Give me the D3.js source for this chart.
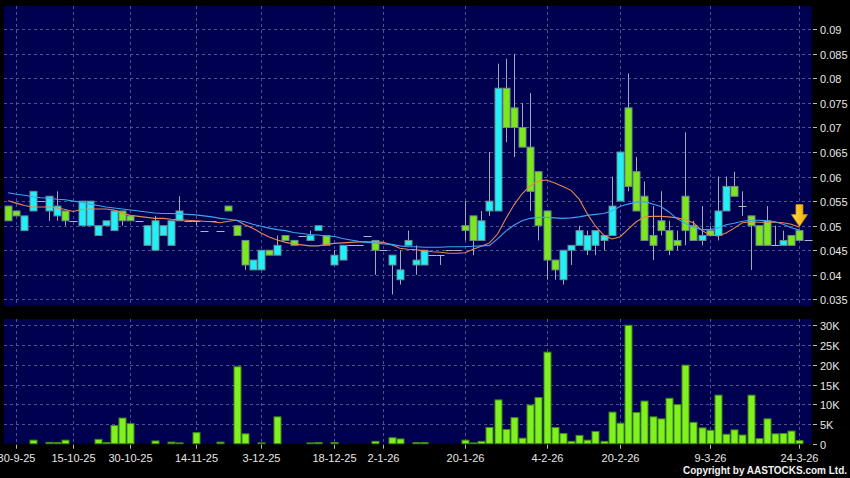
<!DOCTYPE html>
<html><head><meta charset="utf-8">
<script src="https://cdn.jsdelivr.net/npm/d3@7"></script>
<style>html,body{margin:0;padding:0;background:#000;}svg{display:block;}</style>
</head><body><svg id="c" width="850" height="478"></svg>
<script>
// ---- data (one entry per trading session, left to right) ----
const openP  = [0.054,0.053,0.049,0.053,0.055,0.053,0.052,0.053,0.051,0.050,0.050,0.048,0.050,0.049,0.053,0.052,0.051,0.046,0.045,0.048,
                0.046,0.051,0.051,0.051,0.049,0.051,0.049,0.054,0.050,0.047,0.041,0.041,0.045,0.044,0.048,0.047,0.048,0.047,0.049,0.048,
                0.042,0.043,0.046,0.046,0.048,0.047,0.045,0.042,0.039,0.046,0.042,0.042,0.044,0.044,0.045,0.045,0.050,0.052,0.047,0.053,
                0.053,0.078,0.074,0.070,0.066,0.061,0.053,0.043,0.039,0.045,0.046,0.045,0.046,0.047,0.048,0.055,0.074,0.061,0.056,0.048,
                0.051,0.049,0.047,0.056,0.050,0.047,0.049,0.048,0.053,0.058,0.054,0.052,0.050,0.051,0.046,0.046,0.048,0.049,0.047];
const highP  = [0.054,0.053,0.052,0.057,0.055,0.056,0.057,0.053,0.051,0.055,0.055,0.050,0.051,0.053,0.053,0.052,0.051,0.050,0.052,0.050,
                0.051,0.056,0.051,0.051,0.049,0.051,0.049,0.054,0.050,0.047,0.043,0.045,0.045,0.048,0.048,0.047,0.048,0.049,0.050,0.048,
                0.045,0.046,0.046,0.046,0.048,0.047,0.045,0.044,0.045,0.049,0.046,0.045,0.044,0.044,0.045,0.045,0.055,0.052,0.053,0.065,
                0.083,0.084,0.085,0.075,0.077,0.061,0.053,0.043,0.045,0.046,0.050,0.049,0.049,0.048,0.060,0.065,0.081,0.064,0.059,0.054,
                0.057,0.051,0.049,0.069,0.051,0.054,0.050,0.060,0.060,0.061,0.057,0.052,0.050,0.054,0.050,0.049,0.048,0.049,0.047];
const lowP   = [0.051,0.052,0.049,0.053,0.055,0.051,0.051,0.050,0.051,0.050,0.050,0.048,0.050,0.049,0.050,0.051,0.051,0.046,0.045,0.048,
                0.046,0.051,0.051,0.050,0.049,0.051,0.049,0.053,0.048,0.041,0.041,0.041,0.044,0.044,0.047,0.046,0.048,0.047,0.049,0.046,
                0.042,0.043,0.046,0.046,0.048,0.040,0.045,0.036,0.038,0.046,0.040,0.042,0.044,0.042,0.045,0.045,0.047,0.044,0.047,0.052,
                0.053,0.067,0.064,0.066,0.053,0.047,0.039,0.039,0.038,0.042,0.046,0.044,0.044,0.045,0.048,0.055,0.057,0.053,0.047,0.043,
                0.048,0.044,0.045,0.046,0.047,0.046,0.048,0.047,0.053,0.056,0.052,0.041,0.046,0.046,0.046,0.046,0.046,0.047,0.047];
const closeP = [0.051,0.052,0.052,0.057,0.055,0.056,0.054,0.051,0.051,0.055,0.055,0.050,0.051,0.053,0.051,0.051,0.051,0.050,0.051,0.050,
                0.051,0.053,0.051,0.051,0.049,0.051,0.049,0.053,0.048,0.042,0.043,0.045,0.044,0.046,0.047,0.046,0.048,0.048,0.050,0.046,
                0.044,0.046,0.046,0.046,0.048,0.045,0.045,0.044,0.041,0.047,0.043,0.045,0.044,0.044,0.045,0.045,0.049,0.047,0.051,0.055,
                0.078,0.070,0.070,0.066,0.057,0.050,0.043,0.041,0.045,0.046,0.049,0.048,0.049,0.048,0.054,0.065,0.058,0.053,0.047,0.046,
                0.049,0.045,0.046,0.049,0.047,0.048,0.048,0.053,0.058,0.056,0.054,0.050,0.046,0.046,0.046,0.047,0.046,0.047,0.047];
// volume in shares
const volume = [0,0,0,900,0,350,300,900,0,0,0,1100,300,4600,6500,5100,0,0,700,0,
                400,200,0,2800,0,0,400,0,19500,2500,0,200,0,6800,0,0,0,200,300,0,
                300,0,0,0,0,600,0,1500,1200,0,300,300,0,0,0,0,900,200,600,4100,
                11100,3600,6600,1400,9800,11700,23200,4100,2600,600,2100,900,3100,600,8000,5200,30000,7900,10800,6800,
                6300,11500,9900,19900,5400,4000,3400,12300,2400,3500,2200,12300,1300,6300,2500,2600,3200,800,0];
// moving averages (orange = short, blue = long)
const maShort = [0.0551,0.0546,0.0541,0.0538,0.0538,0.0538,0.0536,0.0533,0.0529,0.0533,0.0534,0.0534,0.0534,0.0532,0.0526,0.0521,0.0519,0.0517,0.0515,0.0515,
                 0.0513,0.0512,0.0511,0.0510,0.0509,0.0508,0.0506,0.0509,0.0511,0.0502,0.0495,0.0485,0.0477,0.0471,0.0466,0.0463,0.0461,0.0459,0.0459,0.0462,
                 0.0464,0.0465,0.0466,0.0467,0.0467,0.0467,0.0466,0.0461,0.0454,0.0452,0.0451,0.0449,0.0447,0.0446,0.0444,0.0444,0.0445,0.0452,0.0458,0.0465,
                 0.0483,0.0514,0.0542,0.0565,0.0581,0.0591,0.0593,0.0587,0.0580,0.0572,0.0554,0.0524,0.0499,0.0481,0.0473,0.0477,0.0493,0.0508,0.0518,0.0519,
                 0.0519,0.0518,0.0516,0.0512,0.0506,0.0491,0.0481,0.0479,0.0485,0.0495,0.0506,0.0508,0.0507,0.0507,0.0507,0.0506,0.0503,0.0497];
const maLong  = [0.0567,0.0564,0.0562,0.0559,0.0557,0.0556,0.0554,0.0553,0.0550,0.0548,0.0544,0.0541,0.0538,0.0536,0.0534,0.0532,0.0530,0.0528,0.0526,0.0525,
                 0.0525,0.0524,0.0523,0.0522,0.0520,0.0518,0.0515,0.0513,0.0511,0.0508,0.0503,0.0499,0.0495,0.0492,0.0490,0.0486,0.0484,0.0482,0.0481,0.0479,
                 0.0478,0.0474,0.0471,0.0468,0.0466,0.0465,0.0463,0.0462,0.0459,0.0457,0.0457,0.0456,0.0456,0.0456,0.0457,0.0457,0.0457,0.0458,0.0459,0.0460,
                 0.0473,0.0489,0.0501,0.0510,0.0515,0.0517,0.0517,0.0516,0.0515,0.0516,0.0518,0.0521,0.0523,0.0525,0.0530,0.0539,0.0544,0.0548,0.0549,0.0544,
                 0.0539,0.0528,0.0514,0.0505,0.0497,0.0492,0.0492,0.0495,0.0502,0.0505,0.0509,0.0511,0.0511,0.0510,0.0508,0.0503,0.0496,0.0491];
const dateLabels = ["30-9-25","15-10-25","30-10-25","14-11-25","3-12-25","18-12-25","2-1-26","20-1-26","4-2-26","20-2-26","9-3-26","24-3-26"];
const dateIndex  = [1,8,15,23,31,40,46,56,66,75,86,97];
const priceTicks = [0.035,0.04,0.045,0.05,0.055,0.06,0.065,0.07,0.075,0.08,0.085,0.09];
const volTicks   = [0,5000,10000,15000,20000,25000,30000];
const markerIndex = 97;

// ---- drawing ----
const svg = d3.select("#c");
const N = openP.length;
const L = 4, R = 811.7;
const pTop = 6, pBot = 306, vTop = 319, vBot = 443.7;
const NAVY = "#000050";
const FONT = "'Liberation Sans', Arial, sans-serif";

svg.append("rect").attr("width",850).attr("height",478).attr("fill","#000");
svg.append("rect").attr("x",L).attr("y",pTop).attr("width",R-L).attr("height",pBot-pTop).attr("fill",NAVY);
svg.append("rect").attr("x",L).attr("y",vTop).attr("width",R-L).attr("height",vBot-vTop).attr("fill",NAVY);

const x = d3.scaleBand().domain(d3.range(N)).range([L, R]).padding(0);
const cx = i => x(i) + x.bandwidth()/2;
const y = d3.scaleLinear().domain([0.035, 0.09]).range([299.35, 29.3]);
const yv = d3.scaleLinear().domain([0, 30000]).range([vBot, 325.3]);
const bw = 7;

const gridCol = "#52528a";
const grid = svg.append("g").attr("stroke", gridCol).attr("stroke-width", 1).attr("stroke-dasharray", "3,3");
priceTicks.forEach(t => grid.append("line").attr("x1",L).attr("x2",R).attr("y1",Math.round(y(t))+0.5).attr("y2",Math.round(y(t))+0.5));
volTicks.filter(t=>t>0).forEach(t => grid.append("line").attr("x1",L).attr("x2",R).attr("y1",Math.round(yv(t))+0.5).attr("y2",Math.round(yv(t))+0.5));
dateIndex.forEach(i => {
  const xx = Math.round(cx(i)) + 0.5;
  grid.append("line").attr("x1",xx).attr("x2",xx).attr("y1",pTop).attr("y2",pBot);
  grid.append("line").attr("x1",xx).attr("x2",xx).attr("y1",vTop).attr("y2",vBot);
});

// candles
const cg = svg.append("g");
d3.range(N).forEach(i => {
  const o = openP[i], c = closeP[i], h = highP[i], l = lowP[i];
  const xc = Math.round(cx(i)) + 0.5;
  if (o === c && h === l) {
    cg.append("line").attr("x1", xc - 4).attr("x2", xc + 4).attr("y1", Math.round(y(o))+0.5).attr("y2", Math.round(y(o))+0.5)
      .attr("stroke", "#b4b4c0").attr("stroke-width", 1);
    return;
  }
  cg.append("line").attr("x1", xc).attr("x2", xc).attr("y1", y(h)).attr("y2", y(l)).attr("stroke", "#a8a8b4").attr("stroke-width", 1);
  if (o === c) {
    cg.append("line").attr("x1", xc - 4).attr("x2", xc + 4).attr("y1", Math.round(y(o))+0.5).attr("y2", Math.round(y(o))+0.5)
      .attr("stroke", "#b4b4c0").attr("stroke-width", 1);
    return;
  }
  const up = c > o;
  cg.append("rect").attr("x", xc - bw/2).attr("width", bw)
    .attr("y", y(Math.max(o, c))).attr("height", Math.abs(y(o) - y(c)))
    .attr("fill", up ? "#22f0f8" : "#7ce81c").attr("stroke", "#6a8c8c").attr("stroke-width", 1);
});

// volume bars
const vg = svg.append("g");
d3.range(N).forEach(i => {
  if (!volume[i]) return;
  const xc = Math.round(cx(i)) + 0.5;
  vg.append("rect").attr("x", xc - bw/2).attr("width", bw).attr("y", yv(volume[i])).attr("height", vBot - yv(volume[i]))
    .attr("fill", "#80f020").attr("stroke", "#3f8a10").attr("stroke-width", 1);
});

// moving averages
const lineGen = d3.line().x((d, i) => cx(i)).y(d => y(d)).curve(d3.curveLinear);
svg.append("path").datum(maShort).attr("d", lineGen).attr("fill", "none").attr("stroke", "#e8874e").attr("stroke-width", 1.1);
svg.append("path").datum(maLong).attr("d", lineGen).attr("fill", "none").attr("stroke", "#3fa4f0").attr("stroke-width", 1.1);

// marker arrow
const ax = cx(markerIndex), ay = y(highP[markerIndex]) - 4;
const defs = svg.append("defs");
const lg = defs.append("linearGradient").attr("id","ag").attr("x1","0").attr("x2","1").attr("y1","0").attr("y2","0");
lg.append("stop").attr("offset","0").attr("stop-color","#ffe24a");
lg.append("stop").attr("offset","1").attr("stop-color","#f0a400");
svg.append("path")
  .attr("d", `M${ax-3.5},${ay-22} L${ax+3.5},${ay-22} L${ax+3.5},${ay-12} L${ax+8},${ay-12} L${ax},${ay} L${ax-8},${ay-12} L${ax-3.5},${ay-12} Z`)
  .attr("fill", "url(#ag)").attr("stroke", "#c88a00").attr("stroke-width", 0.8);

// axes text
const txt = svg.append("g").attr("font-family", FONT).attr("font-size", 11).attr("fill", "#e6e6e6");
const tickCol = "#bbbbbb";
priceTicks.forEach(t => {
  const yy = Math.round(y(t)) + 0.5;
  svg.append("line").attr("x1", 813).attr("x2", 817).attr("y1", yy).attr("y2", yy).attr("stroke", tickCol);
  txt.append("text").attr("x", 820).attr("y", yy + 4).text(String(t));
});
volTicks.forEach(t => {
  const yy = Math.round(yv(t)) + 0.5;
  svg.append("line").attr("x1", 813).attr("x2", 817).attr("y1", yy).attr("y2", yy).attr("stroke", tickCol);
  txt.append("text").attr("x", 820).attr("y", yy + 4).text(t === 0 ? "0" : (t/1000) + "K");
});
dateIndex.forEach((i, k) => {
  const xx = Math.round(cx(i)) + 0.5;
  svg.append("line").attr("x1", xx).attr("x2", xx).attr("y1", vBot + 1).attr("y2", vBot + 5).attr("stroke", tickCol);
  txt.append("text").attr("x", xx).attr("y", 462).attr("text-anchor", "middle").text(dateLabels[k]);
});
svg.append("text").attr("x", 683).attr("y", 474).attr("font-family", FONT)
  .attr("font-size", 10).attr("font-weight", "bold").attr("fill", "#f0f0f0")
  .attr("textLength", 164).attr("lengthAdjust", "spacing")
  .text("Copyright by AASTOCKS.com Ltd.");
</script></body></html>
